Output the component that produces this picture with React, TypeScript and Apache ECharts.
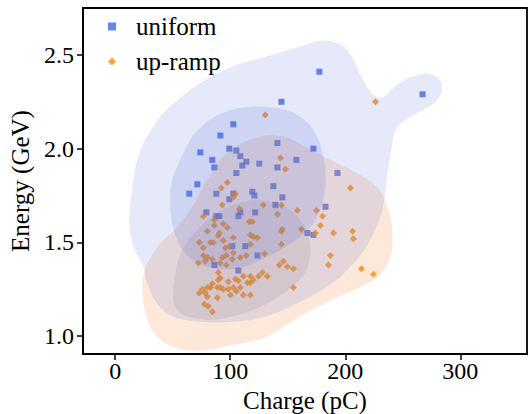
import React, { useEffect, useRef } from "react";
import * as echarts from "echarts";

const xTicks = [0, 100, 200, 300];
const yTicks = [1.0, 1.5, 2.0, 2.5];
const seriesNames = ["uniform", "up-ramp"];

const uniformCharge = [177.5, 144.5, 267.2, 172.3, 141.0, 157.5, 141.0, 137.5, 145.3, 193.2, 139.3, 182.8, 102.7, 91.4, 74.0, 99.2, 105.3, 84.4, 108.8, 114.0, 110.5, 86.2, 105.3, 125.3, 71.4, 64.4, 87.9, 119.2, 121.0, 99.2, 102.7, 79.2, 87.9, 90.5, 108.8, 107.0, 121.8, 101.8, 113.1, 123.6, 86.2, 107.0, 167.1, 172.3];
const uniformEnergy = [2.41, 2.25, 2.29, 2.0, 2.03, 1.94, 1.9, 1.8, 1.74, 1.87, 1.7, 1.69, 2.13, 2.07, 1.98, 2.0, 1.99, 1.94, 1.96, 1.93, 1.91, 1.9, 1.87, 1.92, 1.81, 1.76, 1.76, 1.77, 1.75, 1.73, 1.76, 1.66, 1.64, 1.64, 1.66, 1.64, 1.66, 1.48, 1.48, 1.43, 1.38, 1.35, 1.55, 1.54];

const upRampCharge = [130.5, 226.3, 143.6, 148.0, 204.5, 144.5, 97.5, 92.3, 104.4, 102.7, 93.1, 107.9, 128.8, 76.6, 86.2, 86.2, 94.0, 97.5, 116.6, 119.2, 80.1, 90.5, 89.6, 102.7, 73.1, 82.7, 85.3, 94.0, 117.5, 120.1, 123.6, 117.5, 95.7, 99.2, 76.6, 76.6, 80.1, 78.3, 84.4, 93.1, 96.6, 102.7, 108.8, 114.0, 101.8, 72.2, 91.4, 96.6, 129.7, 127.9, 124.5, 117.5, 120.1, 114.9, 107.0, 98.3, 89.6, 91.4, 84.4, 80.1, 88.8, 73.1, 75.7, 78.3, 82.7, 91.4, 94.0, 98.3, 102.7, 108.8, 105.3, 111.4, 117.5, 117.5, 100.1, 80.1, 77.5, 80.9, 84.4, 88.8, 89.6, 104.4, 111.4, 158.4, 174.9, 180.2, 141.0, 178.4, 145.3, 144.5, 161.9, 174.1, 189.7, 206.3, 207.1, 144.5, 187.1, 185.4, 146.2, 149.7, 154.9, 142.7, 132.3, 154.9, 214.1, 224.5];
const upRampEnergy = [2.18, 2.25, 1.95, 1.89, 1.79, 1.7, 1.82, 1.79, 1.76, 1.74, 1.7, 1.68, 1.7, 1.64, 1.62, 1.59, 1.6, 1.58, 1.61, 1.61, 1.56, 1.55, 1.535, 1.525, 1.5, 1.5, 1.5, 1.51, 1.54, 1.53, 1.525, 1.49, 1.47, 1.48, 1.47, 1.43, 1.42, 1.4, 1.41, 1.42, 1.43, 1.445, 1.42, 1.43, 1.41, 1.39, 1.39, 1.38, 1.44, 1.34, 1.32, 1.32, 1.3, 1.285, 1.295, 1.29, 1.34, 1.31, 1.28, 1.26, 1.26, 1.23, 1.25, 1.23, 1.26, 1.26, 1.25, 1.25, 1.26, 1.26, 1.24, 1.22, 1.285, 1.22, 1.22, 1.21, 1.17, 1.16, 1.13, 1.205, 1.3, 1.305, 1.32, 1.67, 1.67, 1.64, 1.65, 1.59, 1.57, 1.56, 1.57, 1.55, 1.55, 1.56, 1.52, 1.49, 1.43, 1.38, 1.4, 1.37, 1.36, 1.38, 1.32, 1.26, 1.36, 1.33];

// density contour outlines (charge pC, energy GeV)
const uniformOuter = [[13.1, 1.69], [16.5, 1.86], [21.8, 1.99], [32.2, 2.11], [45.3, 2.21], [74.0, 2.35], [102.7, 2.44], [130.5, 2.49], [158.4, 2.54], [180.2, 2.575], [196.7, 2.553], [206.3, 2.484], [214.1, 2.383], [222.8, 2.297], [231.5, 2.271], [242.8, 2.329], [257.6, 2.383], [271.5, 2.399], [282.0, 2.367], [283.7, 2.303], [277.6, 2.244], [262.8, 2.191], [248.9, 2.138], [242.8, 2.084], [240.2, 1.994], [236.7, 1.871], [234.1, 1.727], [228.9, 1.61], [216.7, 1.461], [201.9, 1.354], [188.0, 1.279], [164.5, 1.194], [130.5, 1.103], [102.7, 1.077], [74.0, 1.077], [50.5, 1.103], [36.6, 1.173], [27.8, 1.279], [24.4, 1.37], [15.7, 1.477], [12.2, 1.599]];
const uniformInner = [[47.9, 1.69], [49.6, 1.834], [56.6, 1.94], [65.3, 2.047], [76.6, 2.127], [91.4, 2.186], [108.8, 2.217], [130.5, 2.223], [154.9, 2.191], [172.3, 2.1], [181.0, 1.956], [182.8, 1.818], [179.3, 1.69], [169.7, 1.583], [154.9, 1.503], [130.5, 1.418], [108.8, 1.365], [82.7, 1.365], [62.7, 1.429], [52.2, 1.541]];
const upRampOuter = [[23.5, 1.274], [27.8, 1.386], [39.2, 1.493], [54.8, 1.588], [67.9, 1.7], [80.9, 1.844], [98.3, 1.983], [126.2, 2.063], [147.1, 2.063], [167.1, 2.004], [187.1, 1.94], [208.9, 1.876], [228.0, 1.791], [237.6, 1.674], [241.1, 1.541], [239.3, 1.423], [230.6, 1.327], [217.6, 1.274], [201.9, 1.231], [179.3, 1.167], [153.2, 1.077], [129.7, 0.991], [102.7, 0.954], [74.0, 0.922], [52.2, 0.938], [34.8, 1.007], [26.1, 1.13]];
const upRampInner = [[50.5, 1.194], [52.2, 1.327], [58.3, 1.461], [71.4, 1.567], [88.8, 1.658], [108.8, 1.711], [126.2, 1.727], [149.7, 1.684], [163.6, 1.594], [169.7, 1.477], [165.4, 1.343], [148.0, 1.237], [126.2, 1.157], [104.4, 1.109], [82.7, 1.087], [63.5, 1.103], [54.0, 1.141]];

const FONT = "Liberation Serif";

function contourSeries(poly: number[][], fill: string) {
  return {
    type: "custom",
    data: poly,
    encode: { x: 0, y: 1 },
    clip: true,
    silent: true,
    z: 5,
    renderItem: (params: any, api: any) => {
      if (params.dataIndex !== 0) return null;
      const pts = poly.map((p) => api.coord(p));
      return {
        type: "polygon",
        shape: { points: pts, smooth: 0.35 },
        style: { fill, stroke: "none" },
      };
    },
  };
}

export default function App() {
  const ref = useRef<HTMLDivElement>(null);
  useEffect(() => {
    if (!ref.current) return;
    const chart = echarts.init(ref.current, undefined, { renderer: "svg" });
    const uni = uniformCharge.map((c, i) => [c, uniformEnergy[i]]);
    const up = upRampCharge.map((c, i) => [c, upRampEnergy[i]]);
    chart.setOption({
      animation: false,
      backgroundColor: "#fff",
      textStyle: { fontFamily: FONT },
      grid: {
        left: 83, right: 2, top: 8, bottom: 60,
        containLabel: false, outerBoundsMode: "none",
        show: true, borderColor: "#000", borderWidth: 1.8, backgroundColor: "transparent", z: 10,
      },
      legend: {
        orient: "vertical",
        left: 103,
        top: 9,
        itemWidth: 8,
        itemHeight: 8,
        itemGap: 10,
        z: 20,
        data: [
          { name: seriesNames[0], icon: "rect" },
          { name: seriesNames[1], icon: "diamond" },
        ],
        textStyle: { fontFamily: FONT, fontSize: 25, color: "#000", padding: [0, 0, 0, 15], lineHeight: 25 },
      },
      xAxis: {
        type: "value",
        min: -28,
        max: 358,
        name: "Charge (pC)",
        nameLocation: "middle",
        nameGap: 30,
        z: 10,
        nameTextStyle: { fontFamily: FONT, fontSize: 25, color: "#000" },
        axisLine: { show: true, onZero: false, lineStyle: { color: "#000", width: 1.8 } },
        axisTick: { show: true, inside: false, length: 6, customValues: xTicks, lineStyle: { color: "#000", width: 1.5 } },
        axisLabel: { customValues: xTicks, fontFamily: FONT, fontSize: 24, color: "#000", margin: 5 },
        splitLine: { show: false },
      },
      yAxis: {
        type: "value",
        min: 0.905,
        max: 2.75,
        name: "Energy (GeV)",
        nameLocation: "middle",
        nameGap: 42,
        z: 10,
        nameTextStyle: { fontFamily: FONT, fontSize: 25, color: "#000" },
        axisLine: { show: true, onZero: false, lineStyle: { color: "#000", width: 1.8 } },
        axisTick: { show: true, inside: false, length: 6, customValues: yTicks, lineStyle: { color: "#000", width: 1.5 } },
        axisLabel: { customValues: yTicks, fontFamily: FONT, fontSize: 24, color: "#000", margin: 9, formatter: (v: number) => v.toFixed(1) },
        splitLine: { show: false },
      },
      series: [
        { name: seriesNames[0], type: "scatter", z: 2, data: uni, symbol: "rect", symbolSize: 6, itemStyle: { color: "#4169e1" } },
        { name: seriesNames[1], type: "scatter", z: 2, data: up, symbol: "diamond", symbolSize: 7, itemStyle: { color: "#ff8c00" } },
        contourSeries(upRampOuter, "rgba(245,150,85,0.22)"),
        contourSeries(upRampInner, "rgba(135,115,130,0.15)"),
        contourSeries(uniformOuter, "rgba(80,105,215,0.15)"),
        contourSeries(uniformInner, "rgba(80,105,215,0.16)"),
      ],
    });
    return () => chart.dispose();
  }, []);
  return <div ref={ref} style={{ position: "fixed", left: 0, top: 0, width: 529, height: 414 }} />;
}
